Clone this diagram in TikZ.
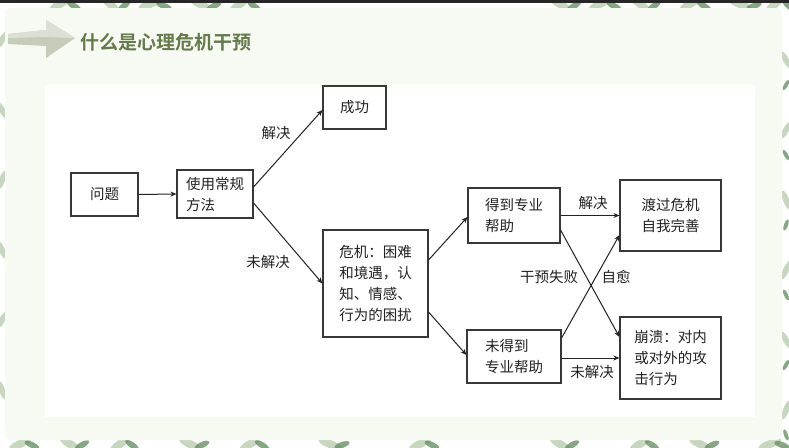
\documentclass[tikz,border=0pt]{standalone}
\usepackage{fontspec}
\setmainfont{Noto Sans CJK SC}
\newfontfamily\titlefont{Noto Sans CJK SC Bold}
\usetikzlibrary{calc,arrows.meta}
\definecolor{panel}{HTML}{F7F9F3}
\definecolor{titlegreen}{HTML}{667A4A}
\definecolor{leafdark}{HTML}{5E8A5A}
\definecolor{leaflight}{HTML}{B9CDB0}
\definecolor{arrowgrey}{HTML}{C5CCB8}
\definecolor{ink}{HTML}{222222}
\tikzset{
  box/.style={draw=ink!90, line width=1.1pt, inner sep=0pt, font=\fontsize{14.5}{21}\selectfont, text=ink, align=left},
  lbl/.style={font=\fontsize{14.5}{17}\selectfont, text=ink, inner sep=0pt},
  conn/.style={draw=ink, line width=1pt, -{Stealth[length=6pt,width=5pt]}},
  leafA/.style={fill=leafdark, opacity=0.75},
  leafB/.style={fill=leaflight, opacity=0.8}
}
\begin{document}
\begin{tikzpicture}[x=1pt,y=-1pt]
\useasboundingbox (0,0) rectangle (789,447);
\fill[white] (0,0) rectangle (789,447);
% leaves
\foreach \x/\r in {60/30,110/-40,150/20,200/-25,240/35,560/-30,600/25,640/-35,690/30,740/-20,775/40}{
  \fill[leafB] (\x,4) ellipse [x radius=12, y radius=4, rotate=\r];
  \fill[leafA] (\x+14,6) ellipse [x radius=8, y radius=3, rotate=-\r];
}
\foreach \x/\r in {20/25,70/-30,120/35,190/-25,250/30,330/-20,420/25,560/-30,640/30,700/-25,770/20}{
  \fill[leafB] (\x,444) ellipse [x radius=12, y radius=4, rotate=\r];
  \fill[leafA] (\x+12,445) ellipse [x radius=8, y radius=3, rotate=-\r];
}
\foreach \y/\r in {40/60,110/-60,180/70,250/-65,320/60,390/-70}{
  \fill[leafB] (2,\y) ellipse [x radius=10, y radius=3, rotate=\r];
  \fill[leafB] (786,\y+20) ellipse [x radius=10, y radius=3, rotate=-\r];
  \fill[leafA] (786,\y+45) ellipse [x radius=6, y radius=2, rotate=\r];
}
\fill[black!85] (0,0) rectangle (789,3);
% panel
\fill[panel, rounded corners=6pt] (5,8) rectangle (782,440);
\fill[white] (45,85) rectangle (755,417);
% title arrow
\fill[arrowgrey] (8,34) -- (46,30) -- (46,20) -- (75,38) -- (46,58) -- (46,46) -- (8,44) -- cycle;
\fill[arrowgrey!60!white] (8,34) -- (46,30) -- (46,20) -- (75,38) -- (46,37) -- (8,38) -- cycle;
\node[anchor=west, font=\titlefont\fontsize{19}{22}\selectfont, text=titlegreen, inner sep=0pt] (title) at (80,42) {什么是心理危机干预};
% boxes
\node[box, minimum width=67pt, minimum height=43pt, align=center] (wenti) at (104.5,194.5) {问题};
\node[box, minimum width=76pt, minimum height=48pt] (shiyong) at (215,194) {使用常规\\方法};
\node[box, minimum width=63pt, minimum height=43pt, align=center] (chenggong) at (354.5,107.5) {成功};
\node[box, minimum width=105pt, minimum height=107pt] (weiji) at (375.5,283.5) {危机：困难\\和境遇，认\\知、情感、\\行为的困扰};
\node[box, minimum width=92pt, minimum height=55pt] (dedao) at (514,215.5) {得到专业\\帮助};
\node[box, minimum width=94pt, minimum height=53pt] (weide) at (514,356.5) {未得到\\专业帮助};
\node[box, minimum width=101pt, minimum height=71pt] (duguo) at (670.5,215.5) {渡过危机\\自我完善};
\node[box, minimum width=101pt, minimum height=82pt] (bengkui) at (670.5,358) {崩溃：对内\\或对外的攻\\击行为};
% connectors
\draw[conn] (wenti.east) -- (shiyong.west);
\draw[conn] ($(shiyong.east)+(0,-7)$) -- ($(chenggong.west)+(0,2.5)$);
\draw[conn] ($(shiyong.east)+(0,9)$) -- (weiji.west);
\draw[conn] ($(weiji.east)+(0,-23.5)$) -- ($(dedao.west)+(0,1.5)$);
\draw[conn] ($(weiji.east)+(0,28.5)$) -- ($(weide.west)+(0,-1.5)$);
\draw[conn] (dedao.east) -- (duguo.west);
\draw[conn] ($(dedao.east)+(0,14.5)$) -- ($(bengkui.west)+(0,-21)$);
\draw[conn] ($(weide.east)+(0,-18.5)$) -- ($(duguo.west)+(0,19.5)$);
\draw[conn] ($(weide.east)+(0,1.5)$) -- (bengkui.west);
% labels
\node[lbl] (l1) at (276,133) {解决};
\node[lbl] (l2) at (268,262) {未解决};
\node[lbl] (l3) at (593,203) {解决};
\node[lbl] (l4) at (592,372) {未解决};
\node[lbl] (l5) at (549,277) {干预失败};
\node[lbl] (l6) at (616,277) {自愈};
\end{tikzpicture}
\end{document}
